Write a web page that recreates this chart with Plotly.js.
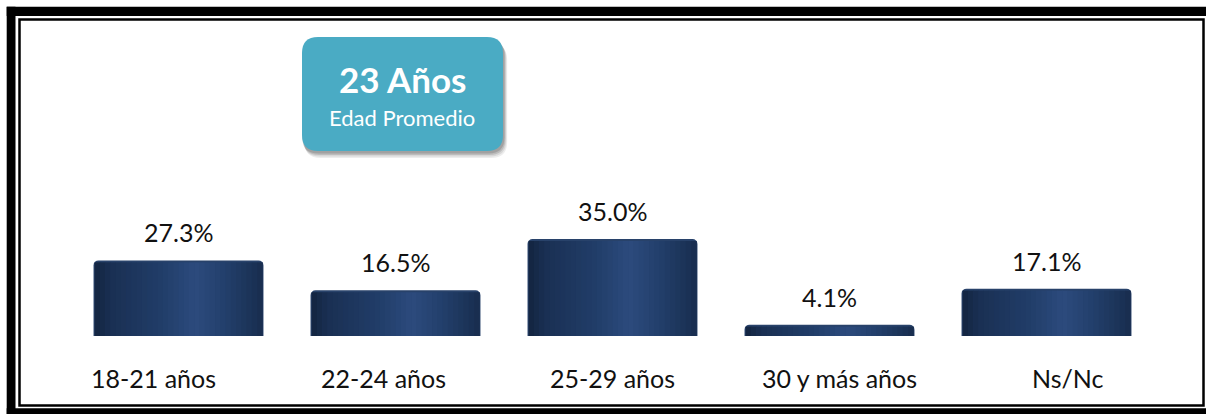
<!DOCTYPE html>
<html>
<head>
<meta charset="utf-8">
<script src="https://cdn.plot.ly/plotly-3.0.1.min.js"></script>
<style>
html,body{margin:0;padding:0;background:#fff;}
#chart{width:1206px;height:414px;}
</style>
</head>
<body>
<div id="chart"></div>
<script>
// ---- data ----
const categories = ["18-21 años", "22-24 años", "25-29 años", "30 y más años", "Ns/Nc"];
const values = [27.3, 16.5, 35.0, 4.1, 17.1];
const valueLabels = ["27.3%", "16.5%", "35.0%", "4.1%", "17.1%"];
const badgeTitle = "23 Años";
const badgeSubtitle = "Edad Promedio";

// ---- style / geometry ----
const FIG_W = 1206, FIG_H = 414;
const M = {l: 70, r: 51, t: 18, b: 78};
const PLOT_W = FIG_W - M.l - M.r, PLOT_H = FIG_H - M.t - M.b;
const Y_MAX = PLOT_H / 2.77;
const BAR_W = 0.783;
const LABEL_NUDGE = [-25, -12, 0, 10, 21];
const FONT = "Lato, 'Open Sans', sans-serif";

// pixel -> paper helpers (for decorations only)
const px = x => (x - M.l) / PLOT_W;
const py = y => (FIG_H - M.b - y) / PLOT_H;

// cylinder shading profile
const stops = [
  [0.00, [19, 36, 64]],
  [0.10, [26, 48, 83]],
  [0.40, [33, 61, 105]],
  [0.60, [44, 75, 125]],
  [0.75, [36, 65, 111]],
  [0.90, [29, 54, 92]],
  [1.00, [24, 45, 78]]
];
function shade(t) {
  for (let i = 0; i < stops.length - 1; i++) {
    const [t0, c0] = stops[i], [t1, c1] = stops[i + 1];
    if (t >= t0 && t <= t1) {
      const f = (t - t0) / (t1 - t0);
      const c = c0.map((v, k) => Math.round(v + (c1[k] - v) * f));
      return `rgb(${c[0]},${c[1]},${c[2]})`;
    }
  }
  return 'rgb(24,45,78)';
}

const traces = [];
// base bar (rounded) - acts as the lighter top rim
traces.push({
  type: 'bar', x: categories, y: values, width: BAR_W,
  marker: {color: 'rgb(40,66,106)', cornerradius: 5, line: {width: 0}},
  hoverinfo: 'skip', showlegend: false
});
// shading bands
const N = 32, INSET = 0.005;
const inner = BAR_W - 2 * INSET;
for (let j = 0; j < N; j++) {
  const t = (j + 0.5) / N;
  traces.push({
    type: 'bar', x: categories,
    y: values.map(v => Math.max(v - 0.7, 0.3)),
    width: inner / N + 0.002,
    offset: -BAR_W / 2 + INSET + j * inner / N,
    marker: {color: shade(t), line: {width: 0}},
    hoverinfo: 'skip', showlegend: false
  });
}

// annotations
const annotations = [];
categories.forEach((c, i) => {
  annotations.push({
    x: c, y: values[i], xref: 'x', yref: 'y', text: valueLabels[i],
    showarrow: false, yshift: 28, yanchor: 'middle',
    font: {family: FONT, size: 25, color: '#111111'}
  });
  annotations.push({
    x: c, y: 0, xref: 'x', yref: 'paper', text: c,
    showarrow: false, yshift: -42, xshift: LABEL_NUDGE[i], yanchor: 'middle',
    font: {family: FONT, size: 25, color: '#111111'}
  });
});
annotations.push({
  x: px(402), y: py(79), xref: 'paper', yref: 'paper', text: '<b>' + badgeTitle + '</b>',
  showarrow: false, xanchor: 'center', yanchor: 'middle',
  font: {family: FONT, size: 35, color: '#ffffff'}
});
annotations.push({
  x: px(402), y: py(117), xref: 'paper', yref: 'paper', text: badgeSubtitle,
  showarrow: false, xanchor: 'center', yanchor: 'middle',
  font: {family: FONT, size: 22, color: '#ffffff'}
});

// rounded rectangle path in paper coords from pixel box
function roundRect(x0, y0, x1, y1, r) {
  const P = (x, y) => `${px(x)},${py(y)}`;
  return `M ${P(x0 + r, y0)} L ${P(x1 - r, y0)} Q ${P(x1, y0)} ${P(x1, y0 + r)} ` +
         `L ${P(x1, y1 - r)} Q ${P(x1, y1)} ${P(x1 - r, y1)} L ${P(x0 + r, y1)} ` +
         `Q ${P(x0, y1)} ${P(x0, y1 - r)} L ${P(x0, y0 + r)} Q ${P(x0, y0)} ${P(x0 + r, y0)} Z`;
}
const rectPx = (x0, y0, x1, y1, extra) => Object.assign({
  type: 'rect', xref: 'paper', yref: 'paper',
  x0: px(x0), x1: px(x1), y0: py(y1), y1: py(y0), layer: 'above'
}, extra);

const shapes = [];
// badge shadow layers
[[7, 0.07], [5.5, 0.09], [4, 0.12], [2.5, 0.14]].forEach(([s, o]) => {
  shapes.push({type: 'path', xref: 'paper', yref: 'paper', layer: 'below',
    path: roundRect(302 + s * 0.5 - 1, 37 + s, 503 + s * 0.6, 151 + s, 16),
    fillcolor: `rgba(0,0,0,${o})`, line: {width: 0}});
});
shapes.push({type: 'path', xref: 'paper', yref: 'paper', layer: 'below',
  path: roundRect(302, 37, 503, 151, 16),
  fillcolor: '#4aabc4', line: {width: 0}});
// frame: thick outer bands
shapes.push(rectPx(6.7, 6.7, 1210, 16, {fillcolor: '#000', line: {width: 0}}));
shapes.push(rectPx(6.7, 6.7, 15.5, 420, {fillcolor: '#000', line: {width: 0}}));
shapes.push(rectPx(6.7, 408.3, 1210, 420, {fillcolor: '#000', line: {width: 0}}));
// frame: thin inner line
shapes.push(rectPx(19.5, 19.5, 1203.5, 405.5, {line: {color: '#000', width: 2.5}, fillcolor: 'rgba(0,0,0,0)'}));

const layout = {
  width: FIG_W, height: FIG_H,
  margin: M,
  paper_bgcolor: '#ffffff', plot_bgcolor: 'rgba(0,0,0,0)',
  barmode: 'overlay', showlegend: false,
  xaxis: {type: 'category', range: [-0.5, categories.length - 0.5], visible: false, fixedrange: true},
  yaxis: {range: [0, Y_MAX], visible: false, fixedrange: true},
  annotations: annotations,
  shapes: shapes,
  font: {family: FONT}
};

Plotly.newPlot('chart', traces, layout, {displayModeBar: false, staticPlot: true});
</script>
</body>
</html>
